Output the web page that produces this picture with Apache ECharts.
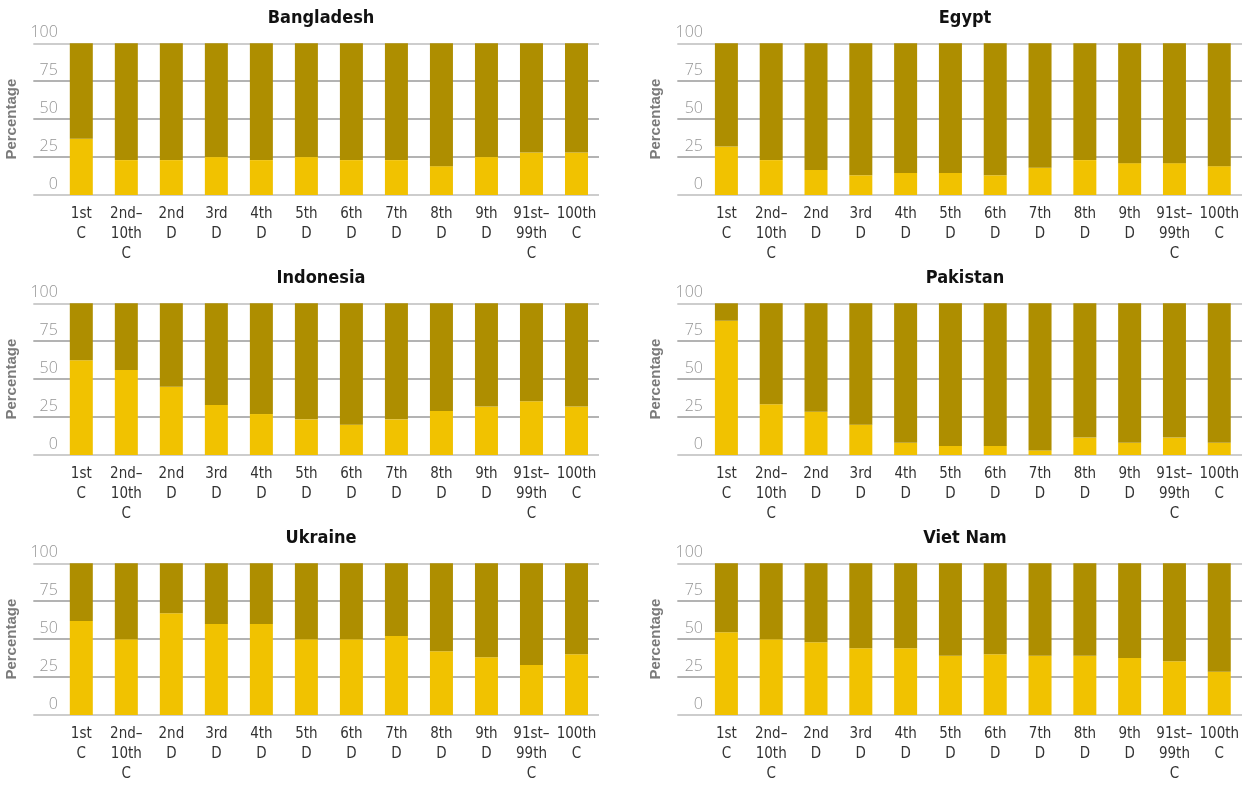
<!DOCTYPE html>
<html>
<head>
<meta charset="utf-8">
<title>Share by centile and decile</title>
<script src="https://cdn.jsdelivr.net/npm/echarts@6/dist/echarts.min.js"></script>
<style>
  html, body { margin: 0; padding: 0; background: #ffffff; }
  #chart { width: 1242px; height: 785px; }
</style>
</head>
<body>
<div id="chart"></div>
<script>
// Categories along each x axis
const categories = [
  '1st\nC', '2nd\u2013\n10th\nC', '2nd\nD', '3rd\nD', '4th\nD', '5th\nD',
  '6th\nD', '7th\nD', '8th\nD', '9th\nD', '91st\u2013\n99th\nC', '100th\nC'
];

// Lower (yellow) segment of each bar, in percent
const bangladesh = [37, 23, 23, 25, 23, 25, 23, 23, 19, 25, 28, 28];
const egypt      = [32, 23, 16.5, 13, 14.5, 14.5, 13, 18, 23, 21, 21, 19];
const indonesia  = [62.5, 56, 45, 33, 27, 23.5, 20, 23.5, 29, 32, 35.5, 32];
const pakistan   = [88.5, 33.5, 28.5, 20, 8, 6, 6, 3, 11.5, 8, 11.5, 8];
const ukraine    = [62, 50, 67, 60, 60, 50, 50, 52, 42, 38, 33, 40];
const vietNam    = [54.5, 50, 48, 44, 44, 39, 40, 39, 39, 37.5, 35.5, 28.5];

// Y axis ticks
const yTicks = [0, 25, 50, 75, 100];

const panelTitles = ['Bangladesh', 'Egypt', 'Indonesia', 'Pakistan', 'Ukraine', 'Viet Nam'];
const panelData = [bangladesh, egypt, indonesia, pakistan, ukraine, vietNam];

const LOW = '#F1C200';
const HIGH = '#AE8E00';
const NARROW = "'Liberation Sans Narrow', 'DejaVu Sans Condensed', sans-serif";

// Column geometry: grid lines span (lineLeft..lineLeft+lineW), bars span (barLeft..barLeft+barW)
const columns = [
  { lineLeft: 33.3, lineW: 565.7, barLeft: 58.8, barW: 540.2, cx: 316 },
  { lineLeft: 677.3, lineW: 564.7, barLeft: 704, barW: 539, cx: 960 }
];
const rows = [43.3, 303.3, 563.3];
const plotH = 151.7;

const grids = [], xAxes = [], yAxes = [], series = [], titles = [];

panelTitles.forEach((name, i) => {
  const col = columns[i % 2];
  const top = rows[Math.floor(i / 2)];
  const gLine = grids.length;
  const gBar = gLine + 1;

  // grid carrying the horizontal rules (wider than the bar area)
  grids.push({ left: col.lineLeft, top: top, width: col.lineW, height: plotH });
  // grid carrying the bars
  grids.push({ left: col.barLeft, top: top, width: col.barW, height: plotH });

  xAxes.push({ gridIndex: gLine, type: 'value', min: 0, max: 1, show: false });
  yAxes.push({
    gridIndex: gLine, type: 'value', min: yTicks[0], max: yTicks[yTicks.length - 1], interval: 25,
    axisLine: { show: false }, axisTick: { show: false }, axisLabel: { show: false },
    splitLine: { show: true, lineStyle: { color: ['#bdbdbd', '#9a9a9a', '#9a9a9a', '#9a9a9a', '#bdbdbd'], width: 1.5 } },
    name: 'Percentage', nameLocation: 'middle', nameGap: 14,
    nameTextStyle: { fontFamily: "'Liberation Sans', Arial, sans-serif", fontWeight: 'bold', fontSize: 15, color: '#7a7a7a' }
  });

  xAxes.push({
    gridIndex: gBar, type: 'category', data: categories,
    axisLine: { show: false }, axisTick: { show: false },
    axisLabel: { interval: 0, margin: 9, fontFamily: NARROW, fontSize: 15, lineHeight: 20, color: '#333333' }
  });
  yAxes.push({
    gridIndex: gBar, type: 'value', min: yTicks[0], max: yTicks[yTicks.length - 1], interval: 25,
    axisLine: { show: false }, axisTick: { show: false }, splitLine: { show: false },
    axisLabel: {
      margin: 1, align: 'right', verticalAlign: 'bottom', padding: [0, 0, 3, 0],
      fontFamily: "'Open Sans', sans-serif", fontWeight: 300, fontSize: 16, color: '#959595'
    }
  });

  const values = panelData[i];
  series.push({
    type: 'bar', xAxisIndex: i * 2 + 1, yAxisIndex: i * 2 + 1, stack: 's' + i,
    data: values, barWidth: 23, itemStyle: { color: LOW }, silent: true
  });
  series.push({
    type: 'bar', xAxisIndex: i * 2 + 1, yAxisIndex: i * 2 + 1, stack: 's' + i,
    data: values.map(v => 100 - v), barWidth: 23, itemStyle: { color: HIGH }, silent: true
  });

  titles.push({
    text: name, left: col.cx, top: top - 39, textAlign: 'center',
    textStyle: { fontFamily: NARROW, fontWeight: 'bold', fontSize: 18, color: '#111111' }
  });
});

const chart = echarts.init(document.getElementById('chart'), null, { renderer: 'canvas' });
chart.setOption({
  animation: false,
  backgroundColor: '#ffffff',
  title: titles,
  grid: grids,
  xAxis: xAxes,
  yAxis: yAxes,
  series: series
});
</script>
</body>
</html>
